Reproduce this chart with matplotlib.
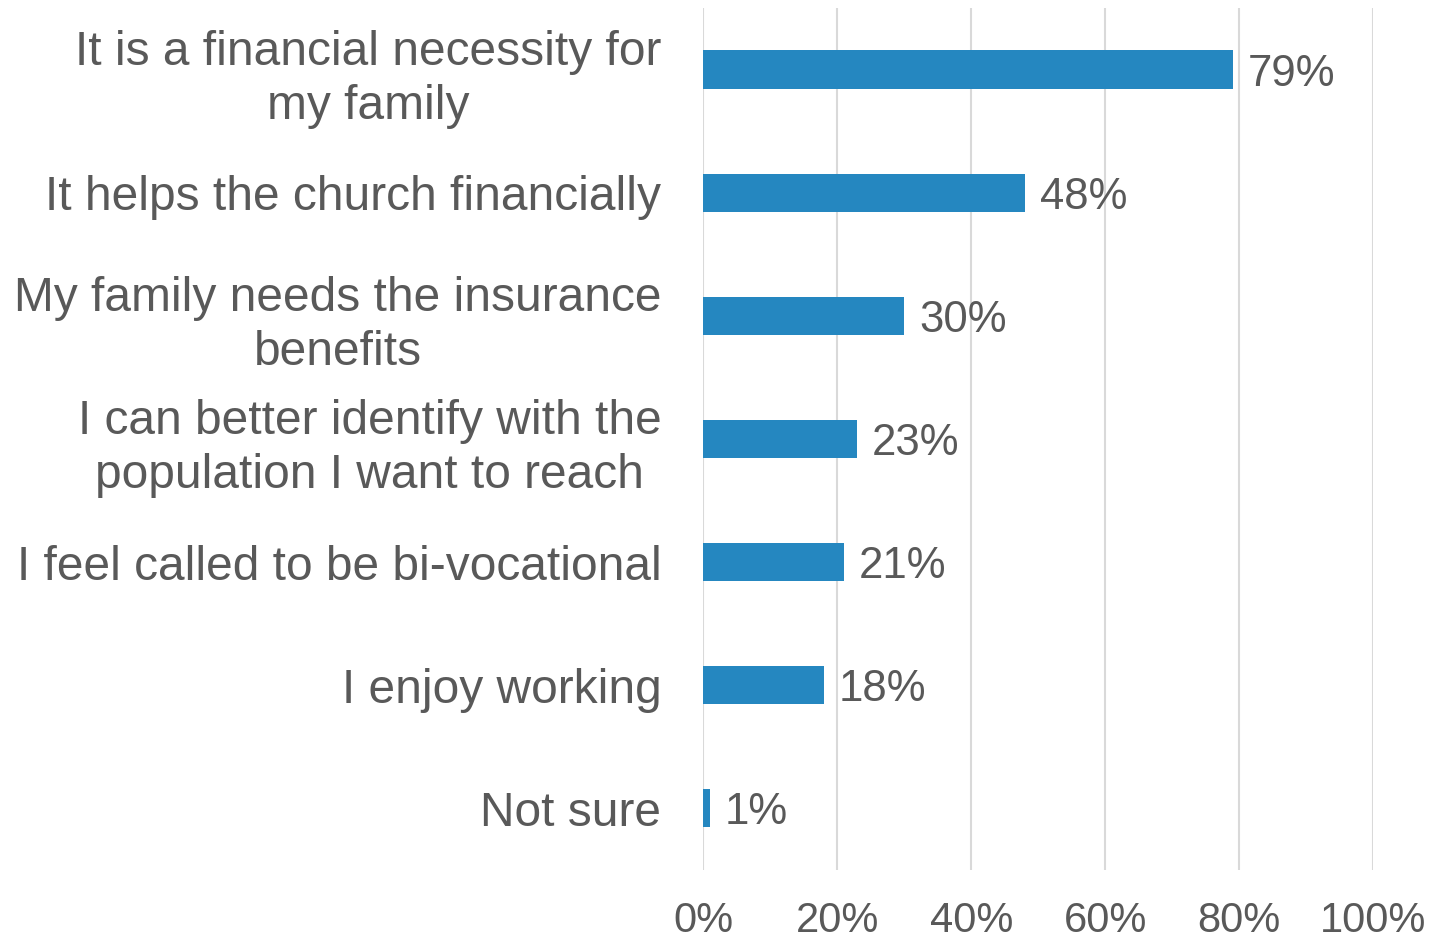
import matplotlib.pyplot as plt

categories = [
    'It is a financial necessity for\nmy family',
    'It helps the church financially',
    'My family needs the insurance\nbenefits',
    'I can better identify with the\npopulation I want to reach',
    'I feel called to be bi-vocational',
    'I enjoy working',
    'Not sure',
]
values = [79, 48, 30, 23, 21, 18, 1]
xticks = [0, 20, 40, 60, 80, 100]

plt.rcParams['font.family'] = ['Liberation Sans', 'DejaVu Sans']
text_color = '#595959'
bar_color = '#2587C0'

fig = plt.figure(figsize=(14.35, 9.4), dpi=100)
ax = fig.add_axes([0.49, 0.0745, 0.467, 0.917])

ypos = list(range(len(categories)))
ax.barh(ypos, values, height=0.31, color=bar_color, zorder=3)
for y, v in zip(ypos, values):
    ax.text(v + 2.2, y, f'{v}%', va='center_baseline', ha='left', fontsize=31.5, color=text_color)

ax.set_ylim(len(categories) - 0.5, -0.5)
ax.set_xlim(0, 100)
ax.set_yticks(ypos)
ax.set_yticklabels(categories, fontsize=34.5, color=text_color, linespacing=1.27)
for lab in ax.get_yticklabels():
    lab.set_multialignment('center')
ax.set_xticks(xticks)
ax.set_xticklabels([f'{t}%' for t in xticks], fontsize=30, color=text_color)
ax.tick_params(axis='y', length=0, pad=30)
ax.tick_params(axis='x', length=0, pad=22)
ax.grid(axis='x', color='#D9D9D9', linewidth=1.5, zorder=0)
for s in ax.spines.values():
    s.set_visible(False)

fig.savefig('out.png', dpi=100)
